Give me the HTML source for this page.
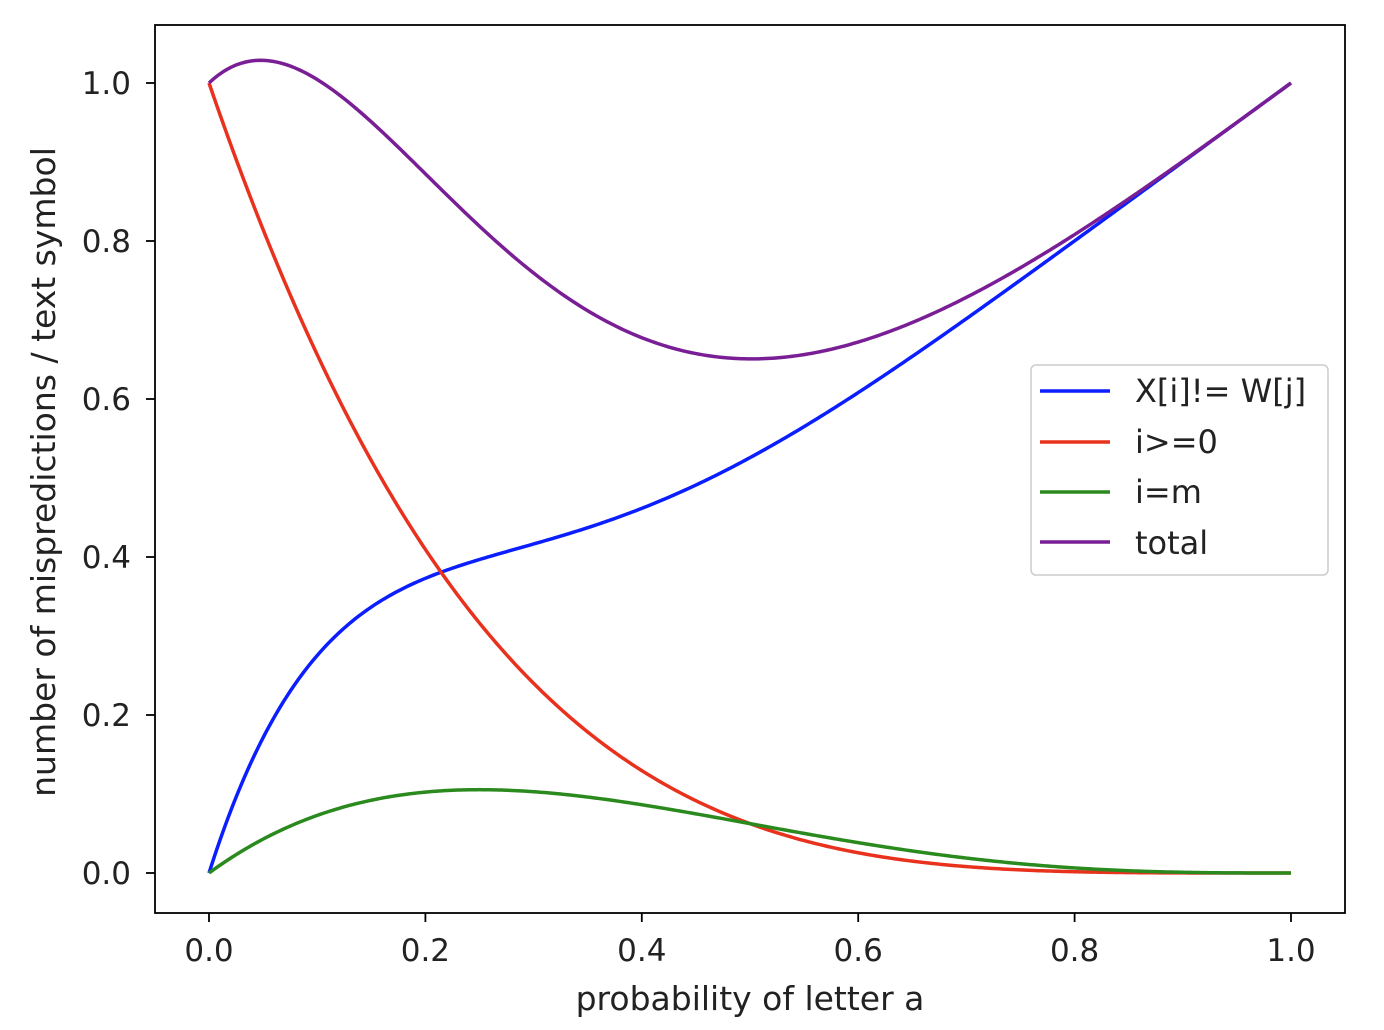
<!DOCTYPE html>
<html><head><meta charset="utf-8"><style>
html,body{margin:0;padding:0;background:#fff;}
svg{display:block;font-family:"DejaVu Sans","Liberation Sans",sans-serif;}
</style></head><body>
<svg id="s" width="1384" height="1030" xmlns="http://www.w3.org/2000/svg">
<rect x="0" y="0" width="1384" height="1030" fill="#fff"/>
<g id="curves" fill="none" stroke-width="3.5" stroke-linejoin="round"></g>
<rect x="155" y="25" width="1190" height="888" fill="none" stroke="#000" stroke-width="1.8"/>
<g stroke="#000" stroke-width="1.8">
<line x1="209" y1="913" x2="209" y2="922"/><line x1="425.4" y1="913" x2="425.4" y2="922"/>
<line x1="641.8" y1="913" x2="641.8" y2="922"/><line x1="858.2" y1="913" x2="858.2" y2="922"/>
<line x1="1074.6" y1="913" x2="1074.6" y2="922"/><line x1="1291" y1="913" x2="1291" y2="922"/>
<line x1="146" y1="873" x2="155" y2="873"/><line x1="146" y1="715" x2="155" y2="715"/>
<line x1="146" y1="557" x2="155" y2="557"/><line x1="146" y1="399" x2="155" y2="399"/>
<line x1="146" y1="241" x2="155" y2="241"/><line x1="146" y1="83" x2="155" y2="83"/>
</g>
<g font-size="31" fill="#222" text-anchor="middle">
<text x="209" y="961">0.0</text><text x="425.4" y="961">0.2</text><text x="641.8" y="961">0.4</text>
<text x="858.2" y="961">0.6</text><text x="1074.6" y="961">0.8</text><text x="1291" y="961">1.0</text>
</g>
<g font-size="31" fill="#222" text-anchor="end">
<text x="131" y="884">0.0</text><text x="131" y="726">0.2</text><text x="131" y="568">0.4</text>
<text x="131" y="410">0.6</text><text x="131" y="252">0.8</text><text x="131" y="94">1.0</text>
</g>
<text x="750" y="1010" font-size="33" fill="#222" text-anchor="middle">probability of letter a</text>
<text transform="translate(55,472) rotate(-90)" font-size="33" fill="#222" text-anchor="middle">number of mispredictions / text symbol</text>
<rect x="1031" y="365" width="297" height="210" rx="5" fill="#fff" fill-opacity="0.85" stroke="#ccc" stroke-width="1.5"/>
<g stroke-width="3.5">
<line x1="1040" y1="391" x2="1110" y2="391" stroke="#0a1eff"/>
<line x1="1040" y1="442" x2="1110" y2="442" stroke="#e8321e"/>
<line x1="1040" y1="492" x2="1110" y2="492" stroke="#2a8a1e"/>
<line x1="1040" y1="542" x2="1110" y2="542" stroke="#7a1e96"/>
</g>
<g font-size="32" fill="#222">
<text x="1135" y="402">X[i]!= W[j]</text><text x="1135" y="453">i&gt;=0</text>
<text x="1135" y="503">i=m</text><text x="1135" y="554">total</text>
</g>
</svg>
<script>
var X=function(p){return 209+1082*p},Y=function(v){return 873-790*v};
var blue=function(p){return p+3.3*p*Math.pow(1-p,6)};
var red=function(p){return Math.pow(1-p,4)},green=function(p){return p*Math.pow(1-p,3)};
var fs=[[blue,"#0a1eff"],[red,"#e8321e"],[green,"#2a8a1e"],[function(p){return blue(p)+red(p)+green(p)},"#7a1e96"]];
var g=document.getElementById("curves");
fs.forEach(function(f){var d="";for(var i=0;i<=400;i++){var p=i/400;d+=(i?"L":"M")+X(p).toFixed(2)+" "+Y(f[0](p)).toFixed(2);}
var e=document.createElementNS("http://www.w3.org/2000/svg","path");e.setAttribute("d",d);e.setAttribute("stroke",f[1]);g.appendChild(e);});
</script>
</body></html>
